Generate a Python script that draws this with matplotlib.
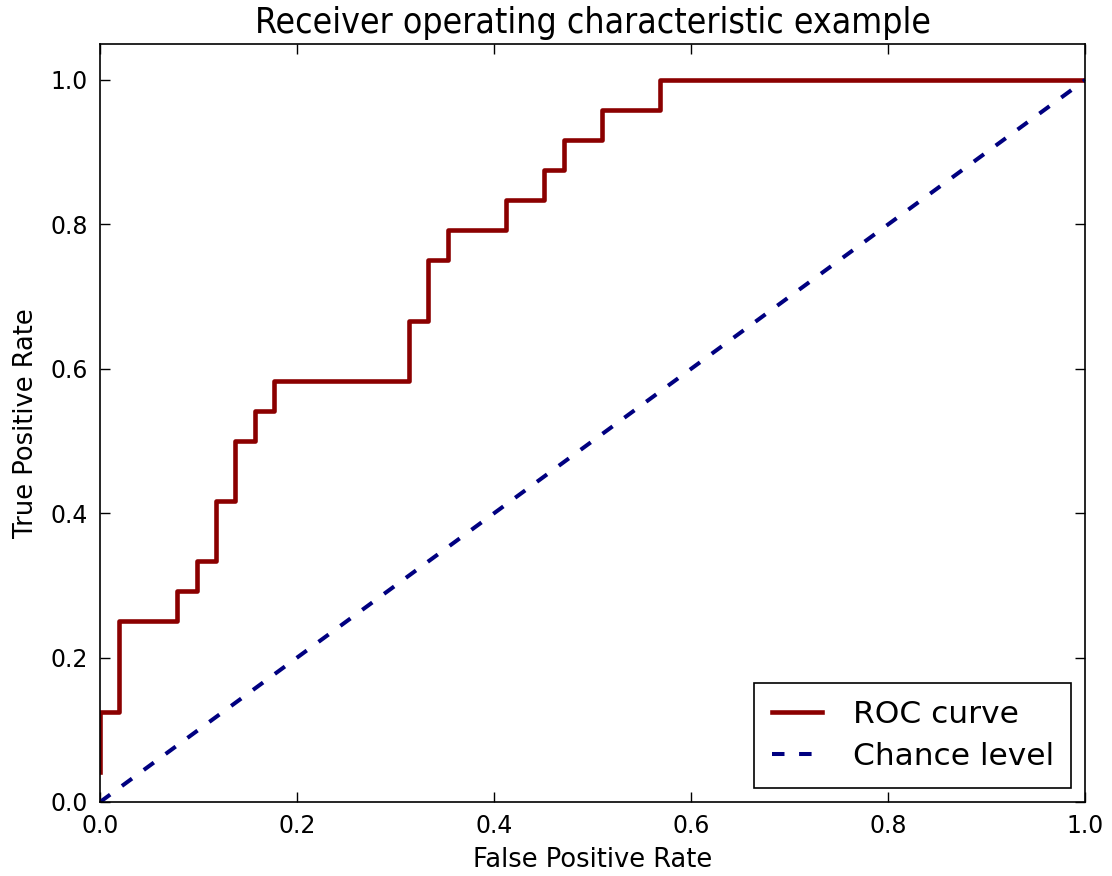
import matplotlib
matplotlib.use('Agg')
import matplotlib.pyplot as plt

# ROC points (false positive rate, true positive rate)
fpr = [0.0, 0.0, 0.0196, 0.0196, 0.0784, 0.0784, 0.0980, 0.0980, 0.1176, 0.1176,
       0.1373, 0.1373, 0.1569, 0.1569, 0.1765, 0.1765, 0.3137, 0.3137, 0.3333, 0.3333,
       0.3529, 0.3529, 0.4118, 0.4118, 0.4510, 0.4510, 0.4706, 0.4706, 0.5098, 0.5098,
       0.5686, 0.5686, 1.0]
tpr = [0.0417, 0.125, 0.125, 0.25, 0.25, 0.2917, 0.2917, 0.3333, 0.3333, 0.4167,
       0.4167, 0.5, 0.5, 0.5417, 0.5417, 0.5833, 0.5833, 0.6667, 0.6667, 0.75,
       0.75, 0.7917, 0.7917, 0.8333, 0.8333, 0.875, 0.875, 0.9167, 0.9167, 0.9583,
       0.9583, 1.0, 1.0]
chance = [0.0, 1.0]

xticks = [0.0, 0.2, 0.4, 0.6, 0.8, 1.0]
yticks = [0.0, 0.2, 0.4, 0.6, 0.8, 1.0]

plt.rcParams['lines.scale_dashes'] = False

fig = plt.figure(figsize=(11.12, 8.76), dpi=100)
ax = fig.add_axes([0.09, 0.0845, 0.886, 0.8655])

ax.plot(fpr, tpr, color='darkred', lw=3.3, label='ROC curve')
ax.plot(chance, chance, color='navy', lw=2.9, linestyle='--', dashes=(9, 10.5),
        label='Chance level')

ax.set_xlim(0.0, 1.0)
ax.set_ylim(0.0, 1.05)
ax.set_xticks(xticks)
ax.set_yticks(yticks)
ax.set_xticklabels(['%.1f' % v for v in xticks])
ax.set_yticklabels(['%.1f' % v for v in yticks])
ax.tick_params(direction='in', top=True, right=True, length=7, width=1,
               labelsize=17, pad=9)
for s in ax.spines.values():
    s.set_linewidth(1.2)

ax.set_xlabel('False Positive Rate', fontsize=18.5, labelpad=6)
ax.set_ylabel('True Positive Rate', fontsize=18.5, labelpad=8)
ax.set_title('Receiver operating characteristic example', fontsize=25.5,
             fontstretch='condensed', pad=8)

leg = ax.legend(loc='lower right', fontsize=22.5, fancybox=False, framealpha=1,
                edgecolor='black', handlelength=1.6, borderpad=0.55,
                labelspacing=0.4, handletextpad=1.0, borderaxespad=0.45)
leg.get_frame().set_linewidth(1.2)

fig.savefig('out.png', dpi=100)
